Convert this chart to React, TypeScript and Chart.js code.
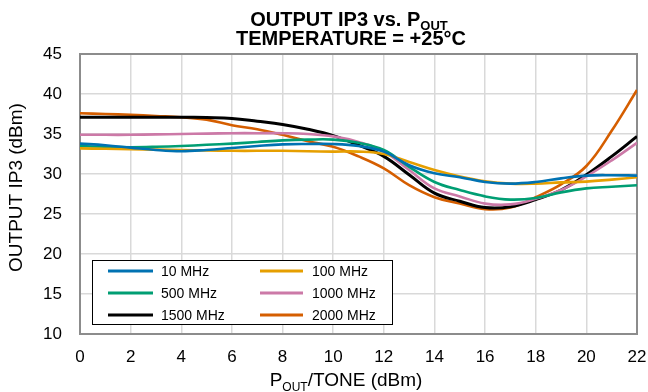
import React, { useEffect, useRef } from "react";
import { Chart, registerables } from "chart.js";

Chart.register(...registerables);

const xValues = [0, 1, 2, 3, 4, 5, 6, 7, 8, 9, 10, 11, 12, 13, 14, 15, 16, 17, 18, 19, 20, 21, 22];

const mhz10 = [33.8, 33.6, 33.3, 33.0, 32.85, 33.0, 33.25, 33.5, 33.7, 33.75, 33.75, 33.5, 32.8, 31.1, 30.1, 29.6, 29.0, 28.8, 29.0, 29.45, 29.8, 29.85, 29.8];
const mhz100 = [33.2, 33.15, 33.1, 33.05, 33.0, 32.95, 32.9, 32.9, 32.9, 32.85, 32.8, 32.8, 32.5, 31.5, 30.5, 29.7, 29.1, 28.8, 28.8, 28.95, 29.05, 29.3, 29.6];
const mhz500 = [33.5, 33.4, 33.35, 33.4, 33.5, 33.65, 33.8, 34.0, 34.2, 34.3, 34.3, 33.9, 33.0, 30.9, 29.0, 28.0, 27.2, 26.8, 27.0, 27.7, 28.2, 28.4, 28.6];
const mhz1000 = [34.9, 34.9, 34.9, 34.95, 35.0, 35.05, 35.1, 35.1, 35.1, 35.0, 34.7, 34.0, 32.8, 30.5, 28.2, 27.2, 26.3, 26.2, 26.9, 28.0, 29.7, 31.7, 33.9];
const mhz1500 = [37.1, 37.1, 37.1, 37.1, 37.1, 37.05, 36.95, 36.6, 36.2, 35.6, 34.8, 33.6, 32.2, 29.9, 27.6, 26.6, 25.8, 25.9, 26.8, 28.0, 29.9, 32.2, 34.7];
const mhz2000 = [37.6, 37.5, 37.4, 37.25, 37.1, 36.8, 36.1, 35.6, 34.9, 34.1, 33.4, 32.2, 30.7, 28.6, 27.1, 26.3, 25.6, 25.8, 27.1, 28.7, 31.0, 35.4, 40.5];

const seriesLabels = ["10 MHz", "100 MHz", "500 MHz", "1000 MHz", "1500 MHz", "2000 MHz"];
const seriesColors = ["#0072B2", "#E69F00", "#009E73", "#CC79A7", "#000000", "#D55E00"];
const seriesData = [mhz10, mhz100, mhz500, mhz1000, mhz1500, mhz2000];

const FONT = "'Liberation Sans', Arial, Helvetica, sans-serif";

function drawSubText(
  ctx: CanvasRenderingContext2D,
  parts: { t: string; font: string; dy: number }[],
  cx: number,
  y: number
) {
  let total = 0;
  for (const p of parts) {
    ctx.font = p.font;
    total += ctx.measureText(p.t).width;
  }
  let x = cx - total / 2;
  ctx.textAlign = "left";
  ctx.textBaseline = "alphabetic";
  for (const p of parts) {
    ctx.font = p.font;
    ctx.fillText(p.t, x, y + p.dy);
    x += ctx.measureText(p.t).width;
  }
}

const decorPlugin = {
  id: "decor",
  beforeDatasetsDraw(chart: any) {
    const { ctx, chartArea } = chart;
    ctx.save();
    ctx.strokeStyle = "#8c8c8c";
    ctx.lineWidth = 2;
    ctx.strokeRect(chartArea.left, chartArea.top, chartArea.right - chartArea.left, chartArea.bottom - chartArea.top);
    ctx.restore();
  },
  afterDraw(chart: any) {
    const { ctx } = chart;
    ctx.save();
    ctx.fillStyle = "#000";
    // Title
    drawSubText(
      ctx,
      [
        { t: "OUTPUT IP3 vs. P", font: `bold 20px ${FONT}`, dy: 0 },
        { t: "OUT", font: `bold 13px ${FONT}`, dy: 4 },
      ],
      349,
      26
    );
    drawSubText(ctx, [{ t: "TEMPERATURE = +25°C", font: `bold 20px ${FONT}`, dy: 0 }], 351, 45);
    // X title
    drawSubText(
      ctx,
      [
        { t: "P", font: `19px ${FONT}`, dy: 0 },
        { t: "OUT", font: `12px ${FONT}`, dy: 5 },
        { t: "/TONE (dBm)", font: `19px ${FONT}`, dy: 0 },
      ],
      346,
      386
    );
    // Y title
    ctx.save();
    ctx.translate(22, 187.5);
    ctx.rotate(-Math.PI / 2);
    ctx.font = `19px ${FONT}`;
    ctx.textAlign = "center";
    ctx.textBaseline = "alphabetic";
    ctx.fillText("OUTPUT IP3 (dBm)", 0, 0);
    ctx.restore();

    // Legend
    const lx = 92.5, ly = 260.5, lw = 300, lh = 64;
    ctx.fillStyle = "#fff";
    ctx.fillRect(lx, ly, lw, lh);
    ctx.strokeStyle = "#000";
    ctx.lineWidth = 1;
    ctx.strokeRect(lx, ly, lw, lh);
    const rowsY = [271, 293, 315];
    const colLine = [[108, 153], [260, 303]];
    const colText = [161, 312];
    ctx.font = `14px ${FONT}`;
    ctx.textBaseline = "middle";
    ctx.textAlign = "left";
    chart.data.datasets.forEach((ds: any, i: number) => {
      const r = Math.floor(i / 2);
      const c = i % 2;
      ctx.strokeStyle = ds.borderColor;
      ctx.lineWidth = 3;
      ctx.beginPath();
      ctx.moveTo(colLine[c][0], rowsY[r]);
      ctx.lineTo(colLine[c][1], rowsY[r]);
      ctx.stroke();
      ctx.fillStyle = "#000";
      ctx.fillText(ds.label, colText[c], rowsY[r] + 1);
    });
    ctx.restore();
  },
};

export default function App() {
  const ref = useRef<HTMLCanvasElement | null>(null);
  useEffect(() => {
    if (!ref.current) return;
    const chart = new Chart(ref.current, {
      type: "line",
      data: {
        datasets: seriesData.map((vals, i) => ({
          label: seriesLabels[i],
          data: xValues.map((x, j) => ({ x, y: vals[j] })),
          borderColor: seriesColors[i],
          backgroundColor: seriesColors[i],
          borderWidth: i === 4 ? 3 : 2.6,
          pointRadius: 0,
          tension: 0.4,
          fill: false,
        })),
      },
      options: {
        animation: false,
        responsive: false,
        devicePixelRatio: 1,
        layout: { padding: { top: 54, right: 11, left: 0, bottom: 0 } },
        plugins: {
          legend: { display: false },
          title: { display: false },
          tooltip: { enabled: false },
        },
        scales: {
          x: {
            type: "linear",
            min: 0,
            max: 22,
            ticks: {
              stepSize: 2,
              color: "#000",
              font: { size: 17, family: FONT },
              padding: 13,
              maxRotation: 0,
            },
            grid: { color: "#d9d9d9", lineWidth: 1.5, drawTicks: false },
            border: { display: false },
            afterFit: (s: any) => {
              s.height = 58;
              s.paddingLeft = 0;
              s.paddingRight = 0;
            },
          },
          y: {
            type: "linear",
            min: 10,
            max: 45,
            ticks: {
              stepSize: 5,
              color: "#000",
              font: { size: 17, family: FONT },
              padding: 18,
            },
            grid: { color: "#d9d9d9", lineWidth: 1.5, drawTicks: false },
            border: { display: false },
            afterFit: (s: any) => {
              s.width = 80;
              s.paddingTop = 0;
              s.paddingBottom = 0;
            },
          },
        },
      },
      plugins: [decorPlugin],
    } as any);
    return () => chart.destroy();
  }, []);
  return (
    <div style={{ position: "absolute", left: 0, top: 0, width: 648, height: 392, background: "#fff" }}>
      <canvas ref={ref} width={648} height={392} style={{ width: 648, height: 392, display: "block" }} />
    </div>
  );
}
